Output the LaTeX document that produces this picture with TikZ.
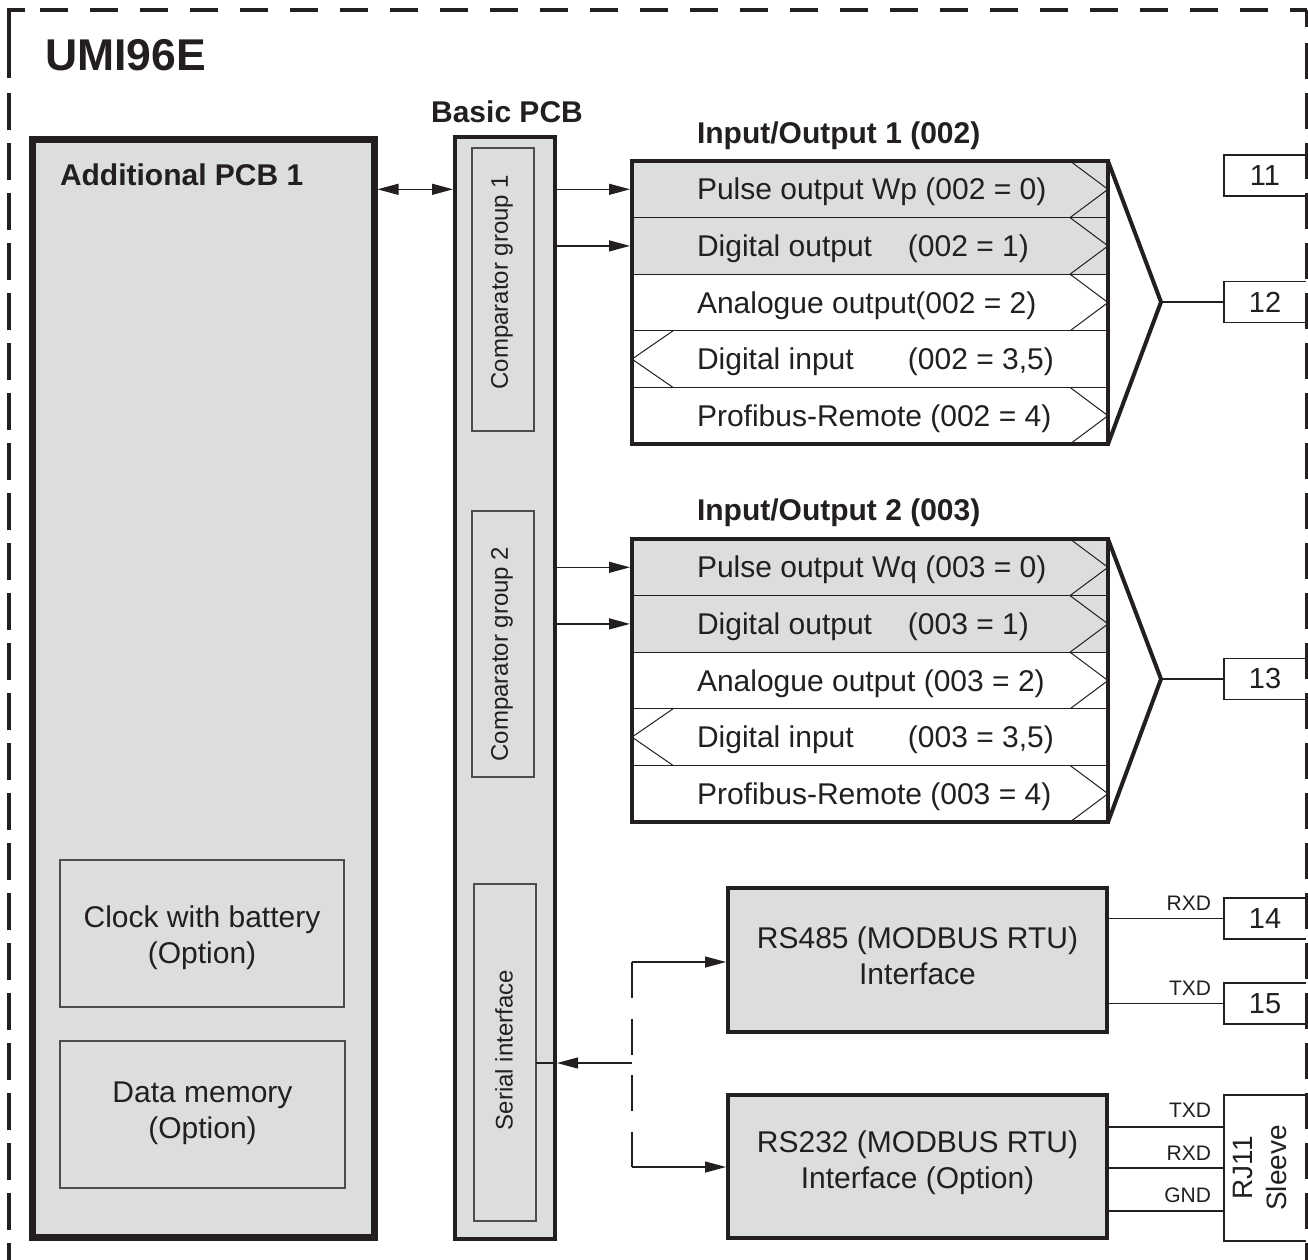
\documentclass[tikz,border=0pt]{standalone}
\usepackage{fontspec}
\setmainfont{Liberation Sans}
\usetikzlibrary{arrows.meta}
\definecolor{ink}{HTML}{231F20}
\definecolor{pcb}{HTML}{DCDDDF}
\begin{document}
\begin{tikzpicture}[x=1pt,y=-1pt,
  every node/.style={inner sep=0pt,outer sep=0pt,text=ink,font=\fontsize{30}{35}\selectfont},
  bigbox/.style={draw=ink,fill=pcb,line width=7pt},
  midbox/.style={draw=ink,fill=pcb,line width=4pt},
  subbox/.style={draw=ink!80,fill=pcb,line width=1.2pt},
  iorow/.style={draw=ink,line width=1.2pt,minimum width=476pt,minimum height=56.6pt},
  ioframe/.style={draw=ink,line width=4pt,minimum width=476pt,minimum height=283pt},
  chev/.style={draw=ink,line width=1pt},
  conn/.style={draw=ink,line width=1.3pt},
  arr/.style={conn,-{Triangle[length=21pt,width=11pt]}},
  darr/.style={conn,{Triangle[length=21pt,width=11pt]}-{Triangle[length=21pt,width=11pt]}},
  term/.style={minimum width=82pt,minimum height=41pt,font=\fontsize{29}{33}\selectfont},
  termline/.style={draw=ink,line width=1.2pt},
  sig/.style={font=\fontsize{21}{24}\selectfont,anchor=south east},
  heading/.style={font=\bfseries\fontsize{30}{35}\selectfont},
  vtext/.style={rotate=90,font=\fontsize{24}{28}\selectfont},
  rowtext/.style={anchor=base west},
  twoline/.style={align=center,font=\fontsize{30}{36}\selectfont},
  border/.style={draw=ink,line width=3.5pt}
]
\useasboundingbox (0,0) rectangle (1308,1259);

% outer dashed border
\draw[border] (25,10) -- (9,10) -- (9,78);
\draw[border,dash pattern=on 28pt off 22pt] (40,10) -- (1306.5,10);
\draw[border,dash pattern=on 37pt off 13pt] (9,93) -- (9,1275);
\draw[border] (1306.5,10) -- (1306.5,27);
\draw[border,dash pattern=on 36pt off 14pt] (1306.5,43) -- (1306.5,1275);

\node[font=\bfseries\fontsize{44.5}{50}\selectfont,anchor=base west] (title) at (45,70) {UMI96E};

% additional PCB
\node[bigbox,minimum width=342pt,minimum height=1098pt] (addpcb) at (203,688) {};
\node[heading,anchor=base west] (addlbl) at (60,185) {Additional PCB 1};
\node[subbox,minimum width=284pt,minimum height=147pt] (clock) at (202,933.5) {};
\node[twoline] (clockt) at (202,938) {Clock with battery\\(Option)};
\node[subbox,minimum width=285pt,minimum height=147pt] (mem) at (202.5,1114.5) {};
\node[twoline] (memt) at (202.5,1113) {Data memory\\(Option)};

% basic PCB
\node[midbox,minimum width=100pt,minimum height=1102pt] (basic) at (505,688) {};
\node[heading,anchor=base] (basiclbl) at (507,122) {Basic PCB};
\node[subbox,minimum width=62pt,minimum height=283pt] (cmp1) at (503,289.5) {};
\node[vtext] (cmp1t) at (502,282) {Comparator group 1};
\node[subbox,minimum width=62pt,minimum height=266pt] (cmp2) at (503,644) {};
\node[vtext] (cmp2t) at (502,654) {Comparator group 2};
\node[subbox,minimum width=62pt,minimum height=337pt] (ser) at (505,1052.5) {};
\node[vtext] (sert) at (504,1050) {Serial interface};

% Input/Output 1
\node[heading,anchor=base west] (io1lbl) at (697,143) {Input/Output 1 (002)};
\node[iorow,fill=pcb] (a1) at (870,189.3) {};
\node[iorow,fill=pcb] (a2) at (870,245.9) {};
\node[iorow,fill=white] (a3) at (870,302.5) {};
\node[iorow,fill=white] (a4) at (870,359.1) {};
\node[iorow,fill=white] (a5) at (870,415.7) {};
\node[rowtext] (a1t) at (697,199.8) {Pulse output Wp (002 = 0)};
\node[rowtext] (a2t) at (697,256.4) {\makebox[211pt][l]{Digital output}(002 = 1)};
\node[rowtext] (a3t) at (697,313.0) {Analogue output(002 = 2)};
\node[rowtext] (a4t) at (697,369.6) {\makebox[211pt][l]{Digital input}(002 = 3,5)};
\node[rowtext] (a5t) at (697,426.2) {Profibus-Remote (002 = 4)};
\foreach \r in {a1,a2,a3,a5}
  \draw[chev] ([xshift=-38pt]\r.north east) -- (\r.east) -- ([xshift=-38pt]\r.south east);
\draw[chev] ([xshift=41pt]a4.north west) -- (a4.west) -- ([xshift=41pt]a4.south west);
\node[ioframe] (io1) at (870,302.5) {};
\coordinate (tip1) at (1161,302);
\draw[draw=ink,line width=4pt,line join=miter] (io1.north east) -- (tip1) -- (io1.south east);

% Input/Output 2
\node[heading,anchor=base west] (io2lbl) at (697,520) {Input/Output 2 (003)};
\node[iorow,fill=pcb] (b1) at (870,567.3) {};
\node[iorow,fill=pcb] (b2) at (870,623.9) {};
\node[iorow,fill=white] (b3) at (870,680.5) {};
\node[iorow,fill=white] (b4) at (870,737.1) {};
\node[iorow,fill=white] (b5) at (870,793.7) {};
\node[rowtext] (b1t) at (697,577.8) {Pulse output Wq (003 = 0)};
\node[rowtext] (b2t) at (697,634.4) {\makebox[211pt][l]{Digital output}(003 = 1)};
\node[rowtext] (b3t) at (697,691.0) {Analogue output (003 = 2)};
\node[rowtext] (b4t) at (697,747.6) {\makebox[211pt][l]{Digital input}(003 = 3,5)};
\node[rowtext] (b5t) at (697,804.2) {Profibus-Remote (003 = 4)};
\foreach \r in {b1,b2,b3,b5}
  \draw[chev] ([xshift=-38pt]\r.north east) -- (\r.east) -- ([xshift=-38pt]\r.south east);
\draw[chev] ([xshift=41pt]b4.north west) -- (b4.west) -- ([xshift=41pt]b4.south west);
\node[ioframe] (io2) at (870,680.5) {};
\coordinate (tip2) at (1161,679);
\draw[draw=ink,line width=4pt,line join=miter] (io2.north east) -- (tip2) -- (io2.south east);

% interfaces
\node[midbox,minimum width=379pt,minimum height=144pt] (rs485) at (917.5,960) {};
\node[twoline] (rs485t) at (917.5,956) {RS485 (MODBUS RTU)\\Interface};
\node[midbox,minimum width=379pt,minimum height=143pt] (rs232) at (917.5,1166.5) {};
\node[twoline] (rs232t) at (917.5,1162.5) {RS232 (MODBUS RTU)\\Interface (Option)};

% terminals
\node[term] (t11) at (1265,175.5) {11};
\node[term] (t12) at (1265,302) {12};
\node[term] (t13) at (1265,679) {13};
\node[term] (t14) at (1265,918.5) {14};
\node[term] (t15) at (1265,1003.5) {15};
\node[minimum width=82pt,minimum height=146pt] (rj) at (1265,1168) {};
\node[rotate=90,align=center,font=\fontsize{28}{34}\selectfont] (rjt) at (1260,1168) {RJ11\\Sleeve};
\foreach \t in {t11,t12,t13,t14,t15,rj}
  \draw[termline] (\t.north east) -- (\t.north west) -- (\t.south west) -- (\t.south east);

% connectors
\draw[darr,shorten <=3.5pt,shorten >=2pt] (addpcb.east |- a1) -- (basic.west |- a1);
\draw[arr,shorten >=2pt] (basic.east |- a1) -- (a1.west);
\draw[arr,shorten >=2pt] (basic.east |- a2) -- (a2.west);
\draw[arr,shorten >=2pt] (basic.east |- b1) -- (b1.west);
\draw[arr,shorten >=2pt] (basic.east |- b2) -- (b2.west);
\draw[conn] (tip1) -- (tip1 -| t12.west);
\draw[conn] (tip2) -- (tip2 -| t13.west);

\coordinate (split) at (632,1063);
\coordinate (sp1) at (632,962);
\coordinate (sp2) at (632,1167);
\draw[conn] (ser.east |- split) -- (basic.east |- split);
\draw[arr,shorten >=2pt] (split) -- (basic.east |- split);
\draw[conn,dash pattern=on 36pt off 20.5pt] (sp1) -- (sp2);
\draw[arr,shorten >=2pt] (sp1) -- (rs485.west |- sp1);
\draw[arr,shorten >=2pt] (sp2) -- (rs232.west |- sp2);

\draw[conn] (rs485.east |- t14) -- (t14.west);
\draw[conn] (rs485.east |- t15) -- (t15.west);
\node[sig] (rxd1) at (1211,910) {RXD};
\node[sig] (txd1) at (1211,995) {TXD};

\coordinate (l1) at (1224,1127);
\coordinate (l2) at (1224,1168);
\coordinate (l3) at (1224,1211);
\draw[conn] (rs232.east |- l1) -- (rj.west |- l1);
\draw[conn] (rs232.east |- l2) -- (rj.west |- l2);
\draw[conn] (rs232.east |- l3) -- (rj.west |- l3);
\node[sig] (txd2) at (1211,1117) {TXD};
\node[sig] (rxd2) at (1211,1160) {RXD};
\node[sig] (gnd2) at (1211,1203) {GND};
\end{tikzpicture}
\end{document}
